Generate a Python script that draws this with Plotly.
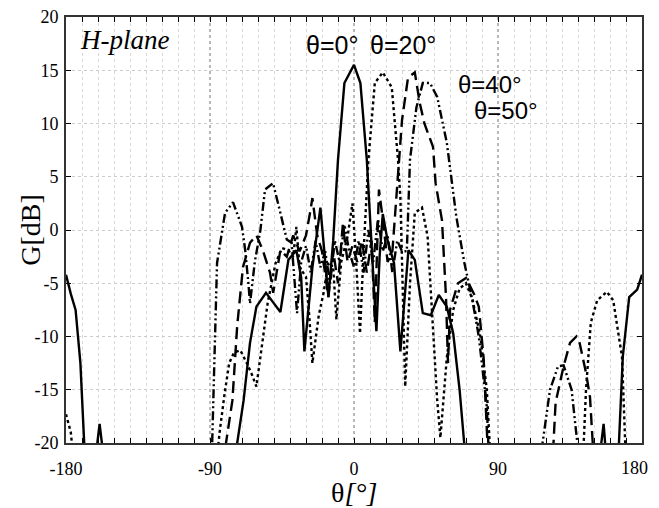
import plotly.graph_objects as go

# theta = 0 deg steering (solid)
th0 = [-180, -177, -174, -171, -168, -162, -159, -156, -120, -75, -69, -65, -61, -55, -51, -46, -41, -36, -33, -31,
       -26, -21, -16, -13, -10, -6, 0, 4, 8, 10, 12, 14, 16, 18, 21, 25, 29, 34, 38, 43, 48, 53, 58, 62, 66, 70,
       110, 153, 156, 158, 165, 168, 172, 177, 180]
g0 = [-4.2, -6.0, -7.5, -12.5, -22, -22, -18.2, -22, -30, -22, -16, -10.6, -7.2, -5.9, -6.7, -7.7, -2.8, -1.9, -4.5, -11.4,
      -3.5, 2.1, -6.3, -1.0, 6.6, 13.8, 15.5, 13.8, 6.6, 1.0, -5.0, -9.5, -2.5, 1.5, -1.0, -3.1, -11.4, -1.9, -2.8, -7.8, -8.0, -6.1, -7.2, -9.7, -15, -22,
      -30, -22, -18.2, -22, -22, -11.9, -6.3, -5.6, -4.2]

# theta = 20 deg steering (dotted)
th20 = [-180, -177, -175, -120, -86, -84, -81, -78, -75, -71, -67, -64, -61, -57, -54, -49, -45, -41, -38, -36, -34, -30,
        -28, -26, -22, -19, -16, -13, -11, -8, -4, -1, 1, 3.75, 6, 9, 13, 18, 23.6, 27.5, 29, 32, 35, 38, 42.5, 46, 49,
        52, 54, 58, 62, 66, 70, 74, 79, 83, 85.5, 120, 143, 145, 148, 152, 158, 162, 167.5, 170]
g20 = [-17.3, -19, -22, -30, -22, -19, -15.5, -12.5, -11.5, -11.3, -12.5, -13.5, -14.7, -10, -6.9, -3.1, -1.7, -1.9, -2.5, 0.3, -3.5, -4.4,
       -8, -12.5, -8, -5.9, -3, -3.5, -8.4, -3, -0.6, 2.5, -2, -9.7, -2, 6.6, 13.8, 14.8, 13.4, 6.6, 3, -14.7, -5, 1.6, 2.1, -0.6, -8,
       -16, -19.5, -12, -7.5, -5.5, -5, -6.5, -10, -15, -22, -30, -22, -15, -8.7, -6.6, -5.8, -6.6, -11.9, -22]

# theta = 40 deg steering (dashed)
th40 = [-82, -79, -76, -73, -69.4, -65, -61, -57, -52.5, -50.5, -46, -42, -38, -34, -30, -27.5, -26, -23, -20, -16, -13, -10,
        -7, -4, -1, 2, 5, 8, 11, 13, 15.6, 18, 21, 24, 26, 28, 30, 33.75, 38, 41, 44, 49.4, 51, 55, 57.5, 58.75, 60, 65, 70,
        75, 78, 81, 84, 110, 124, 126, 131, 135, 139, 141, 145, 147.5, 149, 150]
g40 = [-22, -19, -16, -9, -3.5, -1.2, -0.5, -1.9, -4, -5.9, -1.9, -2.5, -0.5, -2, -0.5, 1.6, 3, -0.5, -2, -6.3, -2, -5,
       0.5, -3, -1.5, -3, -1, -4, -1, -8.7, 3.8, 1, -3, -2, 2, 6.6, 10.3, 14.3, 14.8, 12, 10, 7.8, 4.4, 0.9, -6.3, -12.5, -7.5, -5, -4.5,
       -6, -7.2, -12, -22, -30, -22, -16.2, -12.8, -10.6, -10, -10.6, -13.4, -15.7, -19, -22]

# theta = 50 deg steering (dash-dot-dot)
th50 = [-89, -87, -85.6, -80.6, -75.6, -70, -68, -66, -65, -62, -58.5, -55.6, -50.6, -46, -42, -39, -35.6, -33, -30, -27,
        -24, -21, -18, -15, -12, -9, -6, -3, 0, 3, 6, 9, 12, 15, 18, 21, 24, 27, 30, 33, 35, 39, 43, 47.5, 52, 58, 64, 69,
        74, 78, 83, 84.5, 100, 116, 122.5, 127.5, 131, 136, 141]
g50 = [-22, -12, -3.1, 1.6, 2.6, 0.3, -1.9, -5, -6.9, -3, 0, 3.8, 4.4, 1.6, -0.9, -1.2, -7.8, -3, -1.5, -4,
       -1, -3.5, -2, -5, -1, -3, 0.5, -2, -3.5, -1, -4, 0, -3, 1, -2, -0.5, -4, -1, -2, -2, 6.6, 11.5, 13.8, 13.8, 12.5, 8.2, 1.2, -3.1,
       -6.6, -10, -16.6, -22, -30, -22, -15, -12.8, -12.7, -15, -22]

x_ticks = [-180, -90, 0, 90, 180]
y_ticks = [-20, -15, -10, -5, 0, 5, 10, 15, 20]

series = [
    (th0, g0, "solid"),
    (th20, g20, "dot"),
    (th40, g40, "12px,6px"),
    (th50, g50, "9px,3px,2px,3px,2px,3px"),
]

fig = go.Figure()
for th, g, dash in series:
    fig.add_trace(go.Scatter(x=th, y=g, mode="lines",
                             line=dict(color="black", width=2.4, dash=dash),
                             showlegend=False, hoverinfo="skip"))

tick_font = dict(family="Liberation Serif, Times New Roman, serif", size=18, color="black")

# the last x tick label (180) sits at the right page edge; it is drawn as a right-anchored annotation
fig.update_xaxes(range=[-180, 180], tickvals=x_ticks[:-1], ticktext=[str(v) for v in x_ticks[:-1]],
                 showgrid=True, gridcolor="#b8b8b8", griddash="dot", gridwidth=1.8,
                 ticks="inside", ticklen=5, tickcolor="black", mirror="allticks",
                 showline=True, linecolor="#333333", linewidth=1.8, zeroline=False,
                 tickfont=tick_font, ticklabelstandoff=8, automargin=False,
                 ticklabeloverflow="allow",
                 minor=dict(dtick=10, tick0=0, showgrid=True, gridcolor="#d8d8d8", griddash="dot",
                            gridwidth=1, ticks="inside", ticklen=5, tickcolor="black"))
fig.update_yaxes(range=[-20, 20], tickvals=y_ticks, ticktext=[str(v) for v in y_ticks],
                 showgrid=True, gridcolor="#cccccc", griddash="dot", gridwidth=1,
                 ticks="inside", ticklen=5, tickcolor="black", mirror="allticks",
                 showline=True, linecolor="#333333", linewidth=1.8, zeroline=False,
                 tickfont=tick_font, ticklabelstandoff=2, automargin=False,
                 ticklabeloverflow="allow")

sans = "Liberation Sans, Arial, sans-serif"
serif = "Liberation Serif, Times New Roman, serif"
annos = [
    dict(x=x_ticks[-1], y=0, xref="x", yref="paper", text=str(x_ticks[-1]), showarrow=False,
         xanchor="right", yanchor="top", xshift=8, yshift=-13, font=tick_font),
    dict(x=0.02, y=0.985, xref="paper", yref="paper", text="<i>H-plane</i>", showarrow=False,
         xanchor="left", yanchor="top", font=dict(family=serif, size=27, color="black")),
    dict(x=-14, y=17.4, text="θ=0°", showarrow=False, xanchor="center", yanchor="middle",
         font=dict(family=sans, size=25, color="black")),
    dict(x=30.5, y=17.4, text="θ=20°", showarrow=False, xanchor="center", yanchor="middle",
         font=dict(family=sans, size=25, color="black")),
    dict(x=85, y=13.7, text="θ=40°", showarrow=False, xanchor="center", yanchor="middle",
         font=dict(family=sans, size=24, color="black")),
    dict(x=95, y=11.2, text="θ=50°", showarrow=False, xanchor="center", yanchor="middle",
         font=dict(family=sans, size=24, color="black")),
    dict(x=-0.063, y=0.5, xref="paper", yref="paper", text="G[dB]", showarrow=False, textangle=-90,
         xanchor="center", yanchor="middle", font=dict(family=serif, size=28, color="black")),
    dict(x=0.5, y=-0.117, xref="paper", yref="paper", text="θ<i>[°]</i>", showarrow=False,
         xanchor="center", yanchor="middle", font=dict(family=serif, size=28, color="black")),
]
# page body has an 8px margin, so the figure is 8px smaller and margins are shifted accordingly
fig.update_layout(width=651, height=500, margin=dict(l=58, r=17, t=9, b=65, autoexpand=False),
                  paper_bgcolor="white", plot_bgcolor="white", annotations=annos)

fig.write_html("out.html")
